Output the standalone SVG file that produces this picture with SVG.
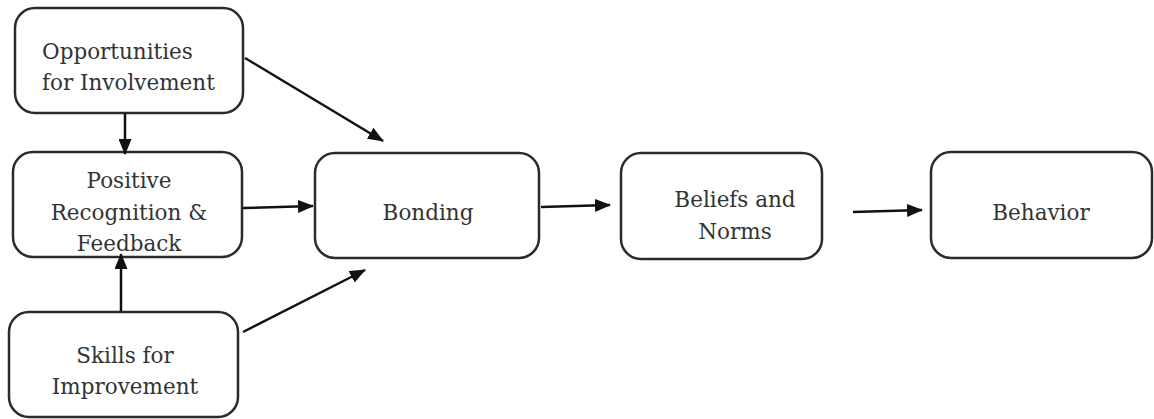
<svg xmlns="http://www.w3.org/2000/svg" width="1154" height="419" viewBox="0 0 1154 419">
<style>
.box{fill:#fff;stroke:#2b2b2b;stroke-width:2.5}
.t{font-family:'DejaVu Serif',serif;font-size:21.5px;fill:#333;text-anchor:middle}
.tl{text-anchor:start}
.c{stroke:#111;stroke-width:2.5;fill:none;marker-end:url(#ah)}
</style>
<defs>
<marker id="ah" viewBox="0 0 16 13" refX="15" refY="6.5" markerWidth="16" markerHeight="13" markerUnits="userSpaceOnUse" orient="auto">
<path d="M0,0 L16,6.5 L0,13 z" fill="#111"/>
</marker>
</defs>
<rect width="1154" height="419" fill="#fff"/>
<g id="opportunities">
<rect class="box" x="15" y="8" width="228" height="105" rx="20"/>
<text class="t tl" x="42" y="59">Opportunities</text>
<text class="t tl" x="42" y="90">for Involvement</text>
</g>
<g id="positive">
<rect class="box" x="13" y="152" width="229" height="105" rx="20"/>
<text class="t" x="129" y="188">Positive</text>
<text class="t" x="129" y="220">Recognition &amp;</text>
<text class="t" x="129" y="251">Feedback</text>
</g>
<g id="skills">
<rect class="box" x="9" y="312" width="229" height="105" rx="20"/>
<text class="t" x="125" y="363">Skills for</text>
<text class="t" x="125" y="394">Improvement</text>
</g>
<g id="bonding">
<rect class="box" x="315" y="153" width="224" height="105" rx="20"/>
<text class="t" x="428" y="220">Bonding</text>
</g>
<g id="beliefs">
<rect class="box" x="621" y="153" width="201" height="106" rx="20"/>
<text class="t" x="735" y="207">Beliefs and</text>
<text class="t" x="735" y="239">Norms</text>
</g>
<g id="behavior">
<rect class="box" x="931" y="152" width="221" height="106" rx="20"/>
<text class="t" x="1041" y="220">Behavior</text>
</g>
<g id="connectors">
<line class="c" x1="125" y1="113" x2="125" y2="154"/>
<line class="c" x1="245" y1="58" x2="383" y2="141"/>
<line class="c" x1="243" y1="208" x2="313" y2="206"/>
<line class="c" x1="121" y1="312" x2="121" y2="254"/>
<line class="c" x1="243" y1="332" x2="365" y2="270"/>
<line class="c" x1="541" y1="207" x2="610" y2="205"/>
<line class="c" x1="853" y1="212" x2="922" y2="210"/>
</g>
</svg>
